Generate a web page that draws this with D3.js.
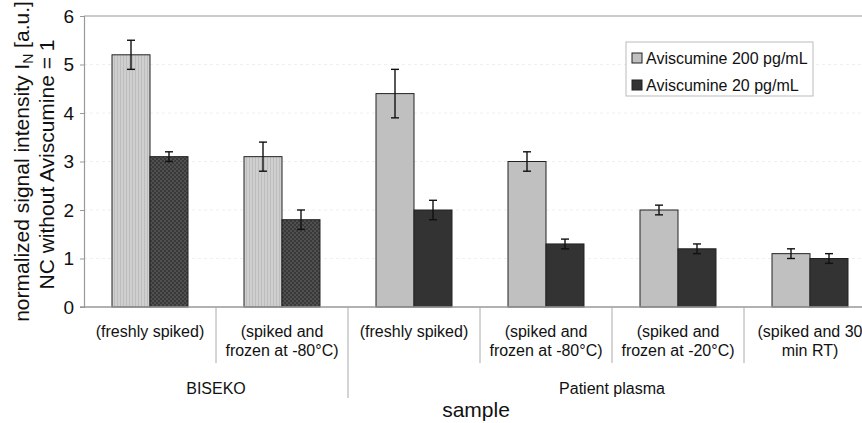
<!DOCTYPE html>
<html>
<head>
<meta charset="utf-8">
<script src="https://cdn.jsdelivr.net/npm/d3@7"></script>
<style>
  body { margin: 0; background: #fff; }
  text { font-family: "Liberation Sans", Arial, sans-serif; fill: #111; }
</style>
</head>
<body>
<div class="chart"></div>
<script>
var categoryLabels = [
    ['(freshly spiked)'],
    ['(spiked and', 'frozen at -80°C)'],
    ['(freshly spiked)'],
    ['(spiked and', 'frozen at -80°C)'],
    ['(spiked and', 'frozen at -20°C)'],
    ['(spiked and 30', 'min RT)']
];
var groupNames = ['BISEKO', 'Patient plasma'];
var groupOf = [0, 0, 1, 1, 1, 1];
var seriesNames = ['Aviscumine 200 pg/mL', 'Aviscumine 20 pg/mL'];
var high = [5.2, 3.1, 4.4, 3.0, 2.0, 1.1];
var highErr = [0.3, 0.3, 0.5, 0.2, 0.1, 0.1];
var low = [3.1, 1.8, 2.0, 1.3, 1.2, 1.0];
var lowErr = [0.1, 0.2, 0.2, 0.1, 0.1, 0.1];
var yTicks = [0, 1, 2, 3, 4, 5, 6];

window.onload = function () {
    var width = 862, height = 423;
    var left = 84, right = 876, top = 16, bottom = 307;

    var svg = d3.select('.chart')
        .append('svg')
        .attr('width', width)
        .attr('height', height);

    var defs = svg.append('defs');
    // fine textures used for the BISEKO bars
    var p1 = defs.append('pattern').attr('id', 'texLight')
        .attr('width', 3).attr('height', 3).attr('patternUnits', 'userSpaceOnUse');
    p1.append('rect').attr('width', 3).attr('height', 3).attr('fill', '#cfcfcf');
    p1.append('rect').attr('width', 1).attr('height', 3).attr('fill', '#bdbdbd');
    var p2 = defs.append('pattern').attr('id', 'texDark')
        .attr('width', 4).attr('height', 4).attr('patternUnits', 'userSpaceOnUse');
    p2.append('rect').attr('width', 4).attr('height', 4).attr('fill', '#393939');
    p2.append('rect').attr('width', 2).attr('height', 2).attr('fill', '#505050');
    p2.append('rect').attr('x', 2).attr('y', 2).attr('width', 2).attr('height', 2).attr('fill', '#505050');

    var idx = d3.range(categoryLabels.length);
    var x0 = d3.scaleBand().domain(idx).range([left, right]).paddingInner(0).paddingOuter(0);
    var x1 = d3.scaleBand().domain([0, 1]).range([0, x0.bandwidth()]).paddingInner(0).paddingOuter(0.737);
    var y = d3.scaleLinear().domain([0, 6]).range([bottom, top]);

    // faint gridlines
    svg.append('g').selectAll('line').data(yTicks.slice(1, -1)).enter()
        .append('line')
        .attr('x1', left).attr('x2', right)
        .attr('y1', function (d) { return y(d); })
        .attr('y2', function (d) { return y(d); })
        .attr('stroke', '#efefef').attr('stroke-dasharray', '3,3');

    // top border
    svg.append('line')
        .attr('x1', left).attr('x2', right)
        .attr('y1', y(6)).attr('y2', y(6))
        .attr('stroke', '#999').attr('stroke-width', 1.2);

    var rows = [];
    idx.forEach(function (i) {
        rows.push({ c: i, s: 0, v: high[i], e: highErr[i] });
        rows.push({ c: i, s: 1, v: low[i], e: lowErr[i] });
    });

    svg.append('g').selectAll('rect').data(rows).enter()
        .append('rect')
        .attr('x', function (d) { return x0(d.c) + x1(d.s); })
        .attr('y', function (d) { return y(d.v); })
        .attr('width', x1.bandwidth())
        .attr('height', function (d) { return y(0) - y(d.v); })
        .attr('fill', function (d) {
            if (groupOf[d.c] === 0) return d.s === 0 ? 'url(#texLight)' : 'url(#texDark)';
            return d.s === 0 ? '#c0c0c0' : '#333333';
        })
        .attr('stroke', '#222')
        .attr('stroke-width', 1);

    // error bars
    var eb = svg.append('g').attr('stroke', '#111').attr('stroke-width', 1.4);
    rows.forEach(function (d) {
        var cx = x0(d.c) + x1(d.s) + x1.bandwidth() / 2;
        eb.append('line').attr('x1', cx).attr('x2', cx)
            .attr('y1', y(d.v + d.e)).attr('y2', y(d.v - d.e));
        [d.v + d.e, d.v - d.e].forEach(function (v) {
            eb.append('line').attr('x1', cx - 4).attr('x2', cx + 4)
                .attr('y1', y(v)).attr('y2', y(v));
        });
    });

    // y axis
    var yAxis = svg.append('g')
        .attr('transform', 'translate(' + left + ',0)')
        .call(d3.axisLeft(y).tickValues(yTicks).tickSize(4).tickPadding(6).tickFormat(d3.format('d')));
    yAxis.select('.domain').attr('stroke', '#999').attr('stroke-width', 1.2);
    yAxis.selectAll('.tick line').attr('stroke', '#999');
    yAxis.selectAll('.tick text').attr('font-size', 19)
        .style('font-family', '"Liberation Sans", Arial, sans-serif').attr('fill', '#111');

    // baseline
    svg.append('line')
        .attr('x1', left - 4).attr('x2', right)
        .attr('y1', y(0)).attr('y2', y(0))
        .attr('stroke', '#999').attr('stroke-width', 1.4);

    // category separators
    svg.append('g').selectAll('line').data(idx.slice(1)).enter()
        .append('line')
        .attr('x1', function (d) { return x0(d); })
        .attr('x2', function (d) { return x0(d); })
        .attr('y1', y(0))
        .attr('y2', function (d) { return groupOf[d] !== groupOf[d - 1] ? 398 : 363; })
        .attr('stroke', '#aaa');

    // category labels
    var cl = svg.append('g').selectAll('text').data(idx).enter()
        .append('text')
        .attr('text-anchor', 'middle')
        .attr('font-size', 16)
        .attr('x', function (d) { return x0(d) + x0.bandwidth() / 2; })
        .attr('y', 337);
    cl.selectAll('tspan').data(function (d) { return categoryLabels[d]; }).enter()
        .append('tspan')
        .attr('x', function () { return d3.select(this.parentNode).attr('x'); })
        .attr('dy', function (d, i) { return i === 0 ? 0 : 19; })
        .text(function (d) { return d; });

    // group labels
    groupNames.forEach(function (g, gi) {
        var members = idx.filter(function (i) { return groupOf[i] === gi; });
        var gx0 = x0(members[0]);
        var gx1 = x0(members[members.length - 1]) + x0.bandwidth();
        svg.append('text')
            .attr('x', (gx0 + gx1) / 2).attr('y', 394)
            .attr('text-anchor', 'middle').attr('font-size', 16)
            .text(g);
    });

    // axis titles
    svg.append('text')
        .attr('x', (left + right) / 2 - 4).attr('y', 417)
        .attr('text-anchor', 'middle').attr('font-size', 21)
        .text('sample');

    var yt = svg.append('text')
        .attr('transform', 'translate(29,' + ((top + bottom) / 2) + ') rotate(-90)')
        .attr('text-anchor', 'middle').attr('font-size', 21);
    yt.append('tspan').text('normalized signal intensity I');
    yt.append('tspan').attr('font-size', 14).attr('dy', 4).text('N');
    yt.append('tspan').attr('dy', -4).text(' [a.u.]');
    svg.append('text')
        .attr('transform', 'translate(54,' + ((top + bottom) / 2 + 3) + ') rotate(-90)')
        .attr('text-anchor', 'middle').attr('font-size', 21)
        .text('NC without Aviscumine = 1');

    // legend
    var lg = svg.append('g').attr('transform', 'translate(626,42)');
    lg.append('rect').attr('width', 187).attr('height', 54)
        .attr('fill', '#fff').attr('stroke', '#bbb');
    seriesNames.forEach(function (s, i) {
        lg.append('rect')
            .attr('x', 6).attr('y', 11 + i * 27).attr('width', 10).attr('height', 10)
            .attr('fill', i === 0 ? '#c0c0c0' : '#333').attr('stroke', '#222');
        lg.append('text')
            .attr('x', 20).attr('y', 21.5 + i * 27)
            .attr('font-size', 16)
            .text(s);
    });
};
</script>
</body>
</html>
